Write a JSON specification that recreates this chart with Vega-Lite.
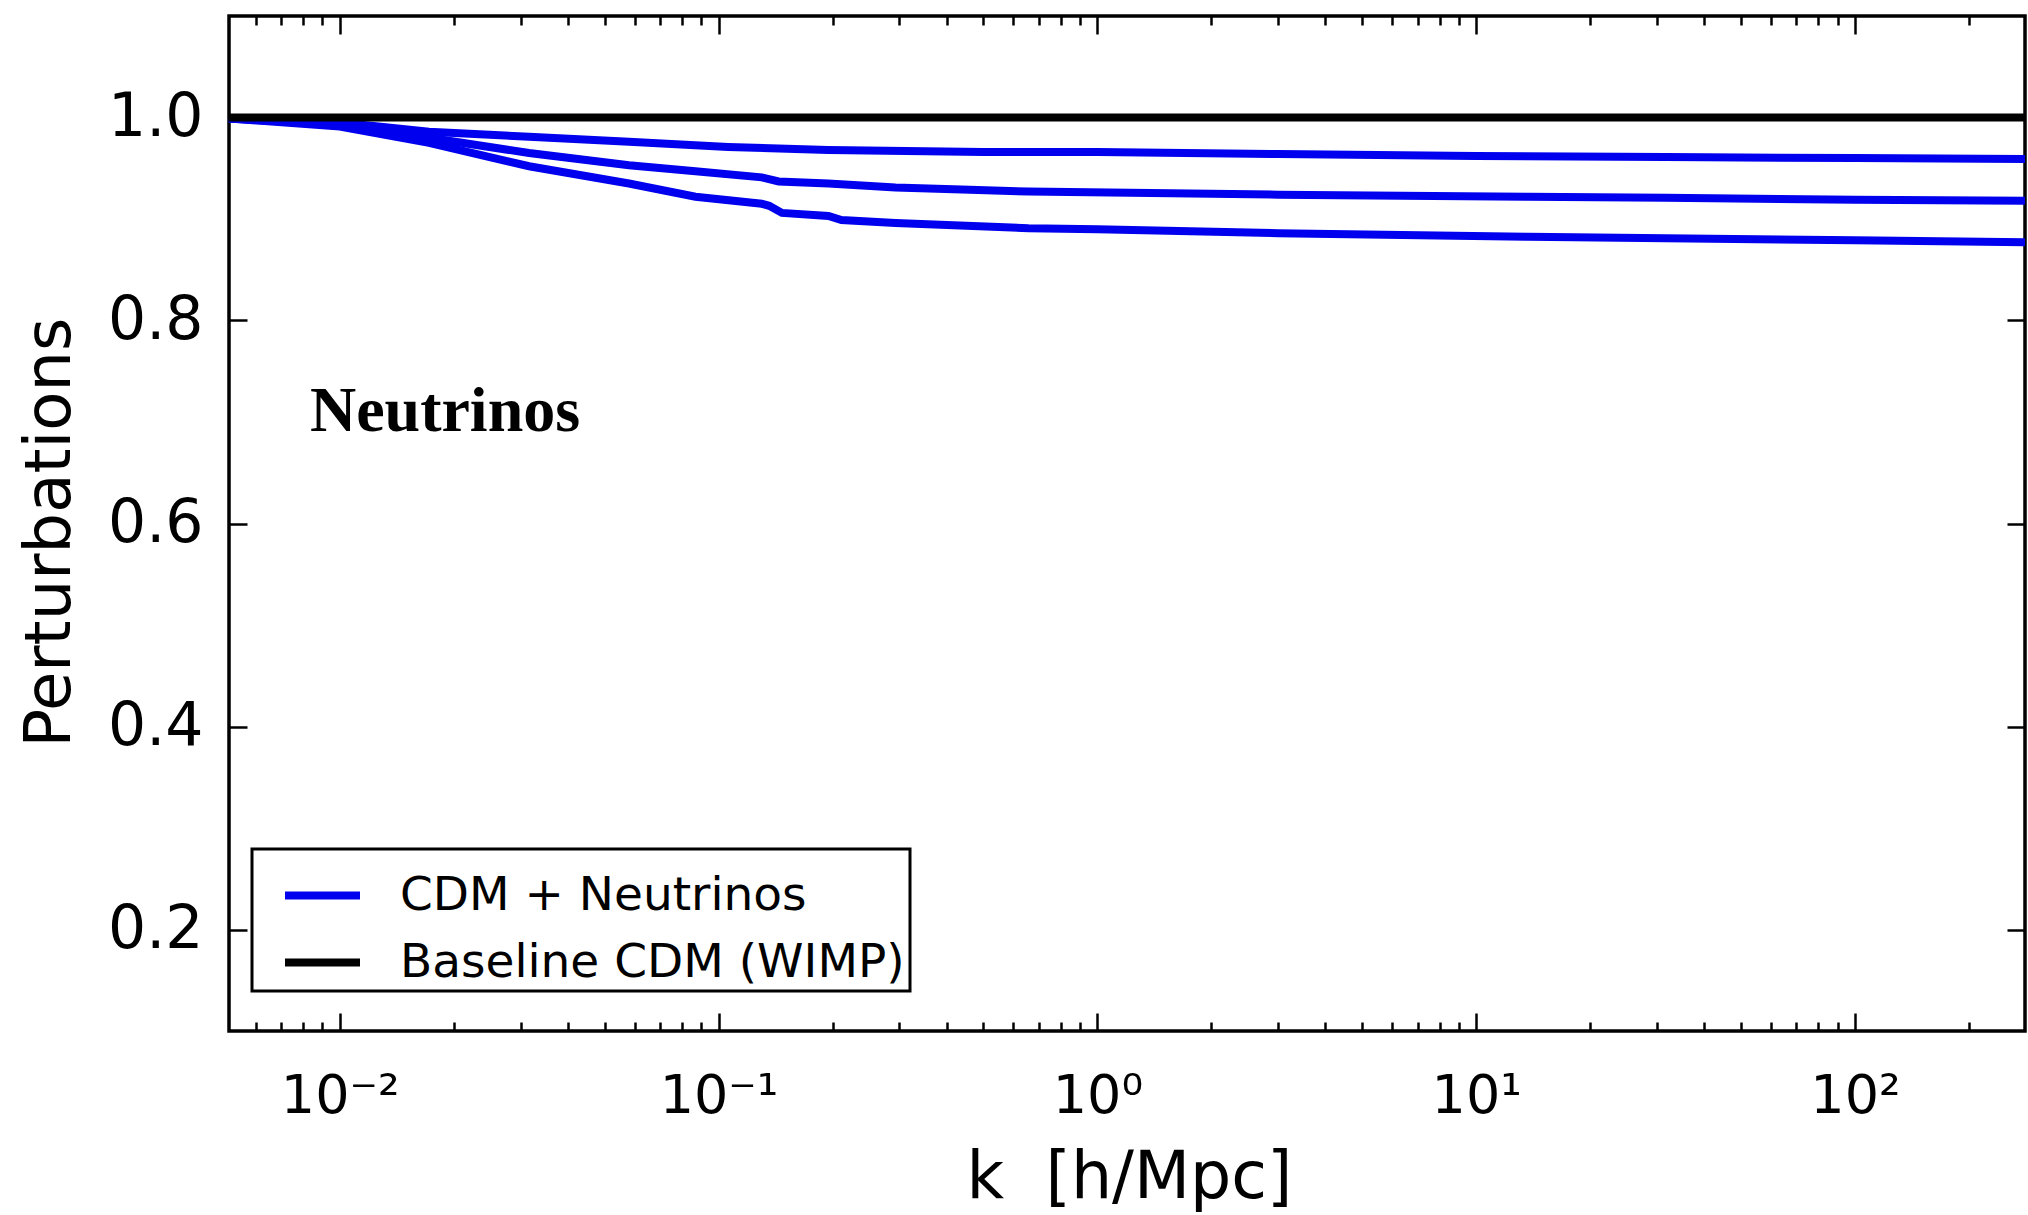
{
  "$schema": "https://vega.github.io/schema/vega-lite/v6.json",
  "width": 1796,
  "height": 1015,
  "autosize": {"type": "none"},
  "padding": {"left": 229, "top": 16, "right": 3, "bottom": 184},
  "background": "white",
  "config": {
    "font": "DejaVu Sans",
    "view": {"stroke": "black", "strokeWidth": 3.5},
    "axis": {"domain": false, "grid": false, "tickColor": "black", "tickWidth": 2.5, "labelColor": "black", "titleColor": "black", "titleFontWeight": "normal", "labelFont": "DejaVu Sans", "titleFont": "DejaVu Sans"},
    "legend": {"strokeWidth": 3}
  },
  "datasets": {
    "neutrino": [
      {"k": 0.0051, "v": 0.999, "model": "CDM + Neutrinos", "run": "a"},
      {"k": 0.01, "v": 0.995, "model": "CDM + Neutrinos", "run": "a"},
      {"k": 0.0172, "v": 0.986, "model": "CDM + Neutrinos", "run": "a"},
      {"k": 0.0316, "v": 0.981, "model": "CDM + Neutrinos", "run": "a"},
      {"k": 0.058, "v": 0.976, "model": "CDM + Neutrinos", "run": "a"},
      {"k": 0.106, "v": 0.971, "model": "CDM + Neutrinos", "run": "a"},
      {"k": 0.195, "v": 0.968, "model": "CDM + Neutrinos", "run": "a"},
      {"k": 0.5, "v": 0.966, "model": "CDM + Neutrinos", "run": "a"},
      {"k": 1, "v": 0.966, "model": "CDM + Neutrinos", "run": "a"},
      {"k": 3, "v": 0.964, "model": "CDM + Neutrinos", "run": "a"},
      {"k": 10, "v": 0.962, "model": "CDM + Neutrinos", "run": "a"},
      {"k": 31.6, "v": 0.961, "model": "CDM + Neutrinos", "run": "a"},
      {"k": 100, "v": 0.96, "model": "CDM + Neutrinos", "run": "a"},
      {"k": 281, "v": 0.959, "model": "CDM + Neutrinos", "run": "a"},
      {"k": 0.0051, "v": 0.999, "model": "CDM + Neutrinos", "run": "b"},
      {"k": 0.01, "v": 0.993, "model": "CDM + Neutrinos", "run": "b"},
      {"k": 0.0172, "v": 0.98, "model": "CDM + Neutrinos", "run": "b"},
      {"k": 0.0316, "v": 0.965, "model": "CDM + Neutrinos", "run": "b"},
      {"k": 0.058, "v": 0.953, "model": "CDM + Neutrinos", "run": "b"},
      {"k": 0.0869, "v": 0.947, "model": "CDM + Neutrinos", "run": "b"},
      {"k": 0.13, "v": 0.941, "model": "CDM + Neutrinos", "run": "b"},
      {"k": 0.144, "v": 0.937, "model": "CDM + Neutrinos", "run": "b"},
      {"k": 0.195, "v": 0.935, "model": "CDM + Neutrinos", "run": "b"},
      {"k": 0.293, "v": 0.931, "model": "CDM + Neutrinos", "run": "b"},
      {"k": 0.4385, "v": 0.929, "model": "CDM + Neutrinos", "run": "b"},
      {"k": 0.658, "v": 0.927, "model": "CDM + Neutrinos", "run": "b"},
      {"k": 3, "v": 0.924, "model": "CDM + Neutrinos", "run": "b"},
      {"k": 13.7, "v": 0.922, "model": "CDM + Neutrinos", "run": "b"},
      {"k": 31.6, "v": 0.921, "model": "CDM + Neutrinos", "run": "b"},
      {"k": 100, "v": 0.919, "model": "CDM + Neutrinos", "run": "b"},
      {"k": 281, "v": 0.918, "model": "CDM + Neutrinos", "run": "b"},
      {"k": 0.0051, "v": 0.999, "model": "CDM + Neutrinos", "run": "c"},
      {"k": 0.01, "v": 0.991, "model": "CDM + Neutrinos", "run": "c"},
      {"k": 0.0172, "v": 0.975, "model": "CDM + Neutrinos", "run": "c"},
      {"k": 0.0316, "v": 0.952, "model": "CDM + Neutrinos", "run": "c"},
      {"k": 0.058, "v": 0.935, "model": "CDM + Neutrinos", "run": "c"},
      {"k": 0.0869, "v": 0.922, "model": "CDM + Neutrinos", "run": "c"},
      {"k": 0.13, "v": 0.915, "model": "CDM + Neutrinos", "run": "c"},
      {"k": 0.136, "v": 0.913, "model": "CDM + Neutrinos", "run": "c"},
      {"k": 0.147, "v": 0.906, "model": "CDM + Neutrinos", "run": "c"},
      {"k": 0.195, "v": 0.903, "model": "CDM + Neutrinos", "run": "c"},
      {"k": 0.211, "v": 0.899, "model": "CDM + Neutrinos", "run": "c"},
      {"k": 0.293, "v": 0.896, "model": "CDM + Neutrinos", "run": "c"},
      {"k": 0.658, "v": 0.891, "model": "CDM + Neutrinos", "run": "c"},
      {"k": 1, "v": 0.89, "model": "CDM + Neutrinos", "run": "c"},
      {"k": 3, "v": 0.886, "model": "CDM + Neutrinos", "run": "c"},
      {"k": 13.7, "v": 0.8825, "model": "CDM + Neutrinos", "run": "c"},
      {"k": 100, "v": 0.879, "model": "CDM + Neutrinos", "run": "c"},
      {"k": 281, "v": 0.877, "model": "CDM + Neutrinos", "run": "c"}
    ],
    "baseline": [
      {"k": 0.0051, "v": 1.0, "model": "Baseline CDM (WIMP)"},
      {"k": 281, "v": 1.0, "model": "Baseline CDM (WIMP)"}
    ],
    "annotation": [
      {"k": 0.00834, "v": 0.6916, "label": "Neutrinos"}
    ]
  },
  "resolve": {"axis": {"x": "independent", "y": "independent"}},
  "layer": [
    {
      "data": {"name": "neutrino"},
      "mark": {"type": "line", "strokeWidth": 8},
      "encoding": {
        "x": {
          "field": "k", "type": "quantitative",
          "scale": {"type": "log", "domain": [0.0051, 281], "nice": false},
          "axis": {
            "orient": "bottom",
            "values": [0.006, 0.007, 0.008, 0.009, 0.01, 0.02, 0.03, 0.04, 0.05, 0.06, 0.07, 0.08, 0.09, 0.1, 0.2, 0.3, 0.4, 0.5, 0.6, 0.7, 0.8, 0.9, 1, 2, 3, 4, 5, 6, 7, 8, 9, 10, 20, 30, 40, 50, 60, 70, 80, 90, 100, 200],
            "labelExpr": "datum.value == 0.01 ? '10⁻²' : datum.value == 0.1 ? '10⁻¹' : datum.value == 1 ? '10⁰' : datum.value == 10 ? '10¹' : datum.value == 100 ? '10²' : ''",
            "labelFontSize": 54,
            "labelBaseline": "top",
            "labelPadding": 56,
            "labelOverlap": false,
            "labelFlush": false,
            "tickSize": {"condition": {"test": "indexof([0.01, 0.1, 1, 10, 100], datum.value) >= 0", "value": -18}, "value": -9},
            "title": "k\u00a0\u00a0[h/Mpc]",
            "titleFontSize": 65,
            "titleX": 900,
            "titleY": 166,
            "titleBaseline": "alphabetic",
            "titleAlign": "center"
          }
        },
        "y": {
          "field": "v", "type": "quantitative",
          "scale": {"domain": [0.1, 1.1], "nice": false, "zero": false},
          "axis": {
            "orient": "left",
            "values": [0.2, 0.4, 0.6, 0.8, 1.0],
            "format": ".1f",
            "labelFontSize": 60,
            "labelPadding": 44,
            "labelBaseline": "middle",
            "tickSize": -18,
            "title": "Perturbations",
            "titleFontSize": 64,
            "titleAngle": -90,
            "titleX": -160,
            "titleY": 516,
            "titleBaseline": "alphabetic",
            "titleAlign": "center"
          }
        },
        "color": {
          "field": "model", "type": "nominal",
          "scale": {"domain": ["CDM + Neutrinos", "Baseline CDM (WIMP)"], "range": ["#0000ee", "#000000"]},
          "legend": {
            "title": null, "orient": "none", "legendX": 23, "legendY": 833, "direction": "vertical",
            "symbolType": "stroke", "symbolSize": 5625, "symbolStrokeWidth": 8,
            "labelFontSize": 47, "labelFont": "DejaVu Sans", "labelColor": "black", "labelLimit": 0,
            "labelOffset": 36, "symbolOffset": 24, "padding": 5, "rowPadding": 2,
            "strokeColor": "black", "fillColor": "white"
          }
        },
        "detail": {"field": "run", "type": "nominal"}
      }
    },
    {
      "data": {"name": "baseline"},
      "mark": {"type": "line", "strokeWidth": 8},
      "encoding": {
        "x": {
          "field": "k", "type": "quantitative",
          "scale": {"type": "log", "domain": [0.0051, 281], "nice": false},
          "axis": {
            "orient": "top",
            "values": [0.006, 0.007, 0.008, 0.009, 0.01, 0.02, 0.03, 0.04, 0.05, 0.06, 0.07, 0.08, 0.09, 0.1, 0.2, 0.3, 0.4, 0.5, 0.6, 0.7, 0.8, 0.9, 1, 2, 3, 4, 5, 6, 7, 8, 9, 10, 20, 30, 40, 50, 60, 70, 80, 90, 100, 200],
            "labels": false,
            "title": null,
            "tickSize": {"condition": {"test": "indexof([0.01, 0.1, 1, 10, 100], datum.value) >= 0", "value": -18}, "value": -9}
          }
        },
        "y": {
          "field": "v", "type": "quantitative",
          "scale": {"domain": [0.1, 1.1], "nice": false, "zero": false},
          "axis": {
            "orient": "right",
            "values": [0.2, 0.4, 0.6, 0.8, 1.0],
            "labels": false,
            "title": null,
            "tickSize": -18
          }
        },
        "color": {
          "field": "model", "type": "nominal",
          "scale": {"domain": ["CDM + Neutrinos", "Baseline CDM (WIMP)"], "range": ["#0000ee", "#000000"]},
          "legend": {
            "title": null, "orient": "none", "legendX": 23, "legendY": 833, "direction": "vertical",
            "symbolType": "stroke", "symbolSize": 5625, "symbolStrokeWidth": 8,
            "labelFontSize": 47, "labelFont": "DejaVu Sans", "labelColor": "black", "labelLimit": 0,
            "labelOffset": 36, "symbolOffset": 24, "padding": 5, "rowPadding": 2,
            "strokeColor": "black", "fillColor": "white"
          }
        }
      }
    },
    {
      "data": {"name": "annotation"},
      "mark": {"type": "text", "font": "Liberation Serif", "fontWeight": "bold", "fontSize": 64, "align": "left", "baseline": "alphabetic", "color": "black"},
      "encoding": {
        "x": {"field": "k", "type": "quantitative", "scale": {"type": "log", "domain": [0.0051, 281], "nice": false}, "axis": null},
        "y": {"field": "v", "type": "quantitative", "scale": {"domain": [0.1, 1.1], "nice": false, "zero": false}, "axis": null},
        "text": {"field": "label", "type": "nominal"}
      }
    }
  ]
}
